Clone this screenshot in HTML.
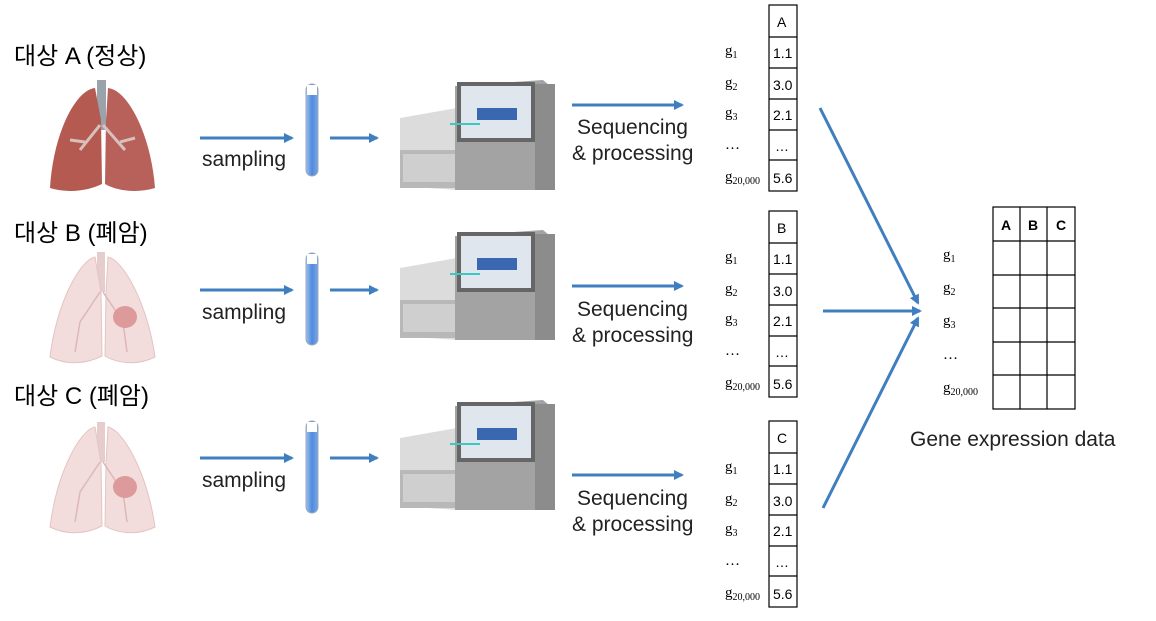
<!DOCTYPE html>
<html><head><meta charset="utf-8"><style>
html,body{margin:0;padding:0;background:#fff;}
svg{display:block;}
.k{font-family:"Liberation Sans","Noto Sans CJK KR",sans-serif;font-size:24px;fill:#000;}
.s{font-family:"Liberation Sans",sans-serif;font-size:21px;fill:#222;}
.g{font-family:"Liberation Serif",serif;font-size:15px;fill:#000;}
.n{font-family:"Liberation Sans",sans-serif;font-size:14px;fill:#000;}
.h{font-family:"Liberation Sans",sans-serif;font-size:14px;font-weight:bold;fill:#000;}
</style></head><body>
<svg width="1156" height="621" viewBox="0 0 1156 621" xmlns="http://www.w3.org/2000/svg">
<defs>
<marker id="ar" markerWidth="10" markerHeight="10" refX="8" refY="5" orient="auto" markerUnits="userSpaceOnUse"><path d="M0,0 L10,5 L0,10 Z" fill="#3f7fbf"/></marker>
<linearGradient id="tb" x1="0" x2="1"><stop offset="0" stop-color="#9cc0ee"/><stop offset=".5" stop-color="#4f8ade"/><stop offset="1" stop-color="#7aa6e4"/></linearGradient>
<g id="lungA">
<rect x="52" y="0" width="9" height="50" fill="#9aa3ab"/>
<path d="M50,8 C30,10 8,55 5,108 C25,114 45,110 57,104 L56,40 Z" fill="#b45a50"/>
<path d="M63,8 C83,10 106,55 110,108 C90,114 70,110 60,104 L61,40 Z" fill="#b8605a"/>
<path d="M55,45 L35,70 M40,62 L25,60 M58,45 L80,70 M75,62 L90,58" stroke="#d8c0bc" stroke-width="3" fill="none"/>
</g>
<g id="lungB">
<rect x="52" y="0" width="8" height="40" fill="#e6cccc"/>
<path d="M50,5 C35,8 12,50 5,105 C25,115 45,110 57,104 L56,40 Z" fill="#f2dcdc" stroke="#e4c4c4"/>
<path d="M63,5 C78,8 102,50 110,105 C90,115 70,110 60,104 L61,40 Z" fill="#f2dcdc" stroke="#e4c4c4"/>
<path d="M55,40 L35,70 L30,100 M58,40 L78,70 L82,100" stroke="#dcb8b8" stroke-width="1.5" fill="none"/>
<ellipse cx="80" cy="65" rx="12" ry="11" fill="#dc9a9a"/>
</g>
<g id="mach">
<path d="M5,40 L62,30 L62,112 L5,108 Z" fill="#dcdcdc"/>
<rect x="5" y="72" width="57" height="38" fill="#b8b8b8"/>
<rect x="8" y="76" width="52" height="28" fill="#cfcfcf"/>
<path d="M60,8 L148,2 L160,12 L160,112 L60,112 Z" fill="#a3a3a3"/>
<rect x="140" y="6" width="20" height="106" fill="#8c8c8c"/>
<rect x="62" y="4" width="78" height="60" fill="#666"/>
<rect x="66" y="8" width="70" height="52" fill="#dfe6ee"/>
<rect x="82" y="30" width="40" height="12" fill="#3a68b0"/>
<rect x="55" y="45" width="30" height="2" fill="#3cc8c0"/>
</g>
<g id="tube">
<rect x="0" y="0" width="12" height="92" rx="6" fill="url(#tb)" stroke="#9ab"/>
<rect x="1" y="1" width="10" height="10" fill="#fff"/>
</g>
<g id="tab">
<rect x="0" y="0" width="28" height="186" fill="#fff" stroke="#000" stroke-width="1.2"/>
<path d="M0,32 H28 M0,63 H28 M0,94 H28 M0,125 H28 M0,155 H28" stroke="#000" stroke-width="1.2"/>
</g>
</defs>

<text class="k" x="14" y="64">대상 A (정상)</text>
<text class="k" x="14" y="241">대상 B (폐암)</text>
<text class="k" x="14" y="404">대상 C (폐암)</text>

<use href="#lungA" x="45" y="80"/>
<use href="#lungB" x="45" y="252"/>
<use href="#lungB" x="45" y="422"/>

<g stroke="#3f7fbf" stroke-width="3" marker-end="url(#ar)">
<line x1="200" y1="138" x2="292" y2="138"/>
<line x1="200" y1="290" x2="292" y2="290"/>
<line x1="200" y1="458" x2="292" y2="458"/>
<line x1="330" y1="138" x2="377" y2="138"/>
<line x1="330" y1="290" x2="377" y2="290"/>
<line x1="330" y1="458" x2="377" y2="458"/>
<line x1="572" y1="105" x2="682" y2="105"/>
<line x1="572" y1="286" x2="682" y2="286"/>
<line x1="572" y1="475" x2="682" y2="475"/>
<line x1="820" y1="108" x2="918" y2="303"/>
<line x1="823" y1="311" x2="920" y2="311"/>
<line x1="823" y1="508" x2="918" y2="318"/>
</g>

<text class="s" x="202" y="166">sampling</text>
<text class="s" x="202" y="319">sampling</text>
<text class="s" x="202" y="487">sampling</text>

<use href="#tube" x="306" y="84"/>
<use href="#tube" x="306" y="253"/>
<use href="#tube" x="306" y="421"/>

<use href="#mach" x="395" y="78"/>
<use href="#mach" x="395" y="228"/>
<use href="#mach" x="395" y="398"/>

<text class="s" x="577" y="134">Sequencing</text>
<text class="s" x="572" y="160">&amp; processing</text>
<text class="s" x="577" y="316">Sequencing</text>
<text class="s" x="572" y="342">&amp; processing</text>
<text class="s" x="577" y="505">Sequencing</text>
<text class="s" x="572" y="531">&amp; processing</text>

<use href="#tab" x="769" y="5"/>
<text class="n" x="777" y="27">A</text>
<text class="n" x="773" y="58">1.1</text><text class="n" x="773" y="90">3.0</text><text class="n" x="773" y="120">2.1</text><text class="n" x="775" y="151">…</text><text class="n" x="773" y="183">5.6</text>
<text class="g" x="725" y="55">g<tspan font-size="10" dy="3">1</tspan></text>
<text class="g" x="725" y="87">g<tspan font-size="10" dy="3">2</tspan></text>
<text class="g" x="725" y="117">g<tspan font-size="10" dy="3">3</tspan></text>
<text class="g" x="725" y="149">…</text>
<text class="g" x="725" y="181">g<tspan font-size="10" dy="3">20,000</tspan></text>

<use href="#tab" x="769" y="211"/>
<text class="n" x="777" y="233">B</text>
<text class="n" x="773" y="264">1.1</text><text class="n" x="773" y="296">3.0</text><text class="n" x="773" y="326">2.1</text><text class="n" x="775" y="357">…</text><text class="n" x="773" y="389">5.6</text>
<text class="g" x="725" y="261">g<tspan font-size="10" dy="3">1</tspan></text>
<text class="g" x="725" y="293">g<tspan font-size="10" dy="3">2</tspan></text>
<text class="g" x="725" y="323">g<tspan font-size="10" dy="3">3</tspan></text>
<text class="g" x="725" y="355">…</text>
<text class="g" x="725" y="387">g<tspan font-size="10" dy="3">20,000</tspan></text>

<use href="#tab" x="769" y="421"/>
<text class="n" x="777" y="443">C</text>
<text class="n" x="773" y="474">1.1</text><text class="n" x="773" y="506">3.0</text><text class="n" x="773" y="536">2.1</text><text class="n" x="775" y="567">…</text><text class="n" x="773" y="599">5.6</text>
<text class="g" x="725" y="471">g<tspan font-size="10" dy="3">1</tspan></text>
<text class="g" x="725" y="503">g<tspan font-size="10" dy="3">2</tspan></text>
<text class="g" x="725" y="533">g<tspan font-size="10" dy="3">3</tspan></text>
<text class="g" x="725" y="565">…</text>
<text class="g" x="725" y="597">g<tspan font-size="10" dy="3">20,000</tspan></text>

<g stroke="#000" stroke-width="1.2" fill="none">
<rect x="993" y="207" width="82" height="202" fill="#fff"/>
<path d="M1020,207 V409 M1047,207 V409 M993,241 H1075 M993,275 H1075 M993,308 H1075 M993,342 H1075 M993,375 H1075"/>
</g>
<text class="h" x="1001" y="230">A</text><text class="h" x="1028" y="230">B</text><text class="h" x="1056" y="230">C</text>
<text class="g" x="943" y="259">g<tspan font-size="10" dy="3">1</tspan></text>
<text class="g" x="943" y="292">g<tspan font-size="10" dy="3">2</tspan></text>
<text class="g" x="943" y="325">g<tspan font-size="10" dy="3">3</tspan></text>
<text class="g" x="943" y="359">…</text>
<text class="g" x="943" y="392">g<tspan font-size="10" dy="3">20,000</tspan></text>
<text class="s" x="910" y="446">Gene expression data</text>
</svg>
</body></html>
